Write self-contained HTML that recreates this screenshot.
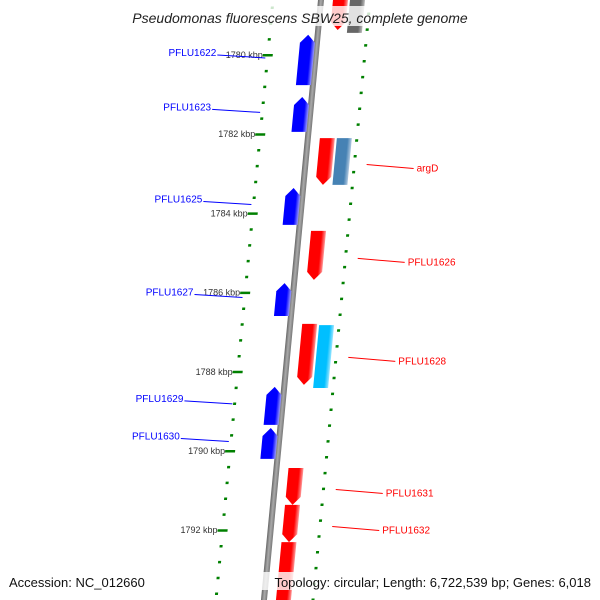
<!DOCTYPE html>
<html><head><meta charset="utf-8"><style>
html,body{margin:0;background:#fff;width:600px;height:600px;overflow:hidden;}
svg{display:block;font-family:"Liberation Sans",sans-serif;overflow:hidden;}
</style></head><body>
<svg width="600" height="600" viewBox="0 0 600 600">
<defs>
<linearGradient id="gBlue" x1="0" x2="1" y1="0" y2="0"><stop offset="0" stop-color="#0000ff"/><stop offset="0.72" stop-color="#0000ff"/><stop offset="1" stop-color="#9999ff"/></linearGradient>
<linearGradient id="gRed" x1="0" x2="1" y1="0" y2="0"><stop offset="0" stop-color="#ff0000"/><stop offset="0.72" stop-color="#ff0000"/><stop offset="1" stop-color="#ff9999"/></linearGradient>
<linearGradient id="gSteel" x1="0" x2="1" y1="0" y2="0"><stop offset="0" stop-color="#4682b4"/><stop offset="0.72" stop-color="#4682b4"/><stop offset="1" stop-color="#b0c8e0"/></linearGradient>
<linearGradient id="gCyan" x1="0" x2="1" y1="0" y2="0"><stop offset="0" stop-color="#00bfff"/><stop offset="0.72" stop-color="#00bfff"/><stop offset="1" stop-color="#99e5ff"/></linearGradient>
<linearGradient id="gGray" x1="0" x2="1" y1="0" y2="0"><stop offset="0" stop-color="#666"/><stop offset="0.72" stop-color="#666"/><stop offset="1" stop-color="#bbb"/></linearGradient>
<linearGradient id="gBack" x1="0" x2="1" y1="0" y2="0"><stop offset="0" stop-color="#666"/><stop offset="0.5" stop-color="#aaa"/><stop offset="1" stop-color="#777"/></linearGradient>
</defs>
<g id="skew" transform="skewX(-5.43)"></g>
<g id="labels"></g>
<g id="overlay"></g>
</svg>
<script>
// ---- data ----
const kbpTicks = [1780, 1782, 1784, 1786, 1788, 1790, 1792];
const fwdNames = ["PFLU1622","PFLU1623","PFLU1625","PFLU1627","PFLU1629","PFLU1630"];
const fwdStart = [1779.49, 1781.06, 1783.36, 1785.76, 1788.38, 1789.42];
const fwdEnd   = [1780.76, 1781.94, 1784.29, 1786.59, 1789.34, 1790.20];
const revNames = ["", "argD", "PFLU1626", "PFLU1628", "PFLU1631", "PFLU1632", ""];
const revStart = [1778.36, 1782.10, 1784.44, 1786.79, 1790.43, 1791.36, 1792.30];
const revEnd   = [1779.37, 1783.28, 1785.68, 1788.33, 1791.36, 1792.30, 1794.00];
const featStart = [1778.36, 1782.10, 1786.82];
const featEnd   = [1779.44, 1783.28, 1788.41];
const featType  = ["gray", "steel", "cyan"];

// ---- axis ----
const NS="http://www.w3.org/2000/svg";
const K0=1780, Y0=55, PX=39.6, BX=321, SK=0.0951;
const yOf=k=>Y0+(k-K0)*PX;
const bx=y=>BX-SK*y;
const skew=document.getElementById('skew');
const labels=document.getElementById('labels');
const overlay=document.getElementById('overlay');
function mk(tag,attrs,parent){const e=document.createElementNS(NS,tag);for(const a in attrs)e.setAttribute(a,attrs[a]);parent.appendChild(e);return e;}

// backbone
const bb=mk('rect',{x:BX-3,y:-10,width:6,height:620,fill:'url(#gBack)'},skew);



// scales
for(let k=1778;k<=1794.01;k+=0.4){
  const kk=Math.round(k*10)/10;
  const y=yOf(kk);
  const major=Math.abs(kk%2)<0.01;
  const ld=mk('rect',{x:273-(major?5:1.5),y:y-1,width:major?10:3,height:2.5,fill:'#008000'},skew);
  
  
  const odd=Math.abs((kk-1)%2)<0.01 || Math.abs((kk+1)%2)<0.01;
  const ry=y+6;
  const rd=mk('rect',{x:370-(odd?5:1.5),y:ry-1,width:odd?10:3,height:2.5,fill:'#008000'},skew);
  
  
}
kbpTicks.forEach(k=>{
  const y=yOf(k);
  const t=mk('text',{x:bx(y)-53,y:y+3,'font-size':9,fill:'#333','text-anchor':'end'},labels);
  t.textContent=k+' kbp';
  
  
});

function gene(y1,y2,x1,x2,fill,dir,name){
  const h=Math.min(8,(y2-y1)/3), xm=(x1+x2)/2;
  let pts;
  if(dir<0) pts=[[x1,y2],[x1,y1+h],[xm,y1],[x2,y1+h],[x2,y2]];
  else pts=[[x1,y1],[x2,y1],[x2,y2-h],[xm,y2],[x1,y2-h]];
  const p=mk('polygon',{points:pts.map(p=>p.join(',')).join(' '),fill:fill},skew);
  
  
}
fwdStart.forEach((s,i)=>{
  const y1=yOf(s),y2=yOf(fwdEnd[i]);
  gene(y1,y2,BX-17,BX-2,'url(#gBlue)',-1,'gene-'+fwdNames[i].toLowerCase());
  const m=(y1+y2)/2, ex=bx(m)-50;
  const l=mk('line',{x1:ex-48,y1:m-5,x2:ex,y2:m-2,stroke:'#0000ff','stroke-width':1},labels);
  
  
  const t=mk('text',{x:ex-49,y:m-4,'font-size':10,fill:'#0000ff','text-anchor':'end'},labels);
  t.textContent=fwdNames[i];
  
  
});
revStart.forEach((s,i)=>{
  const y1=yOf(s),y2=yOf(revEnd[i]);
  gene(y1,y2,BX+12,BX+27,'url(#gRed)',1,'gene-rev-'+i);
  if(!revNames[i])return;
  const m=(y1+y2)/2, sx=bx(m)+61;
  const l=mk('line',{x1:sx,y1:m+3,x2:sx+47,y2:m+7,stroke:'#ff0000','stroke-width':1},labels);
  
  
  const t=mk('text',{x:sx+50,y:m+10,'font-size':10,fill:'#ff0000'},labels);
  t.textContent=revNames[i];
  
  
});
const fills={gray:'url(#gGray)',steel:'url(#gSteel)',cyan:'url(#gCyan)'};
featStart.forEach((s,i)=>{
  const r=mk('rect',{x:BX+29,y:yOf(s),width:15,height:yOf(featEnd[i])-yOf(s),fill:fills[featType[i]]},skew);
  
  
});

// title & footer
const tb=mk('rect',{x:115,y:6,width:370,height:20,fill:'#fff','fill-opacity':0.8},overlay);

const tt=mk('text',{x:300,y:23,'font-size':14,'font-style':'italic',fill:'#222','text-anchor':'middle'},overlay);
tt.textContent='Pseudomonas fluorescens SBW25, complete genome';

const ab=mk('rect',{x:5,y:572,width:142,height:18,fill:'#fff','fill-opacity':0.8},overlay);

const at=mk('text',{x:9,y:587,'font-size':13,fill:'#111'},overlay);
at.textContent='Accession: NC_012660';

const fb=mk('rect',{x:258,y:572,width:337,height:18,fill:'#fff','fill-opacity':0.8},overlay);

const ft=mk('text',{x:591,y:587,'font-size':13,fill:'#111','text-anchor':'end'},overlay);
ft.textContent='Topology: circular; Length: 6,722,539 bp; Genes: 6,018';

</script>
</body></html>
